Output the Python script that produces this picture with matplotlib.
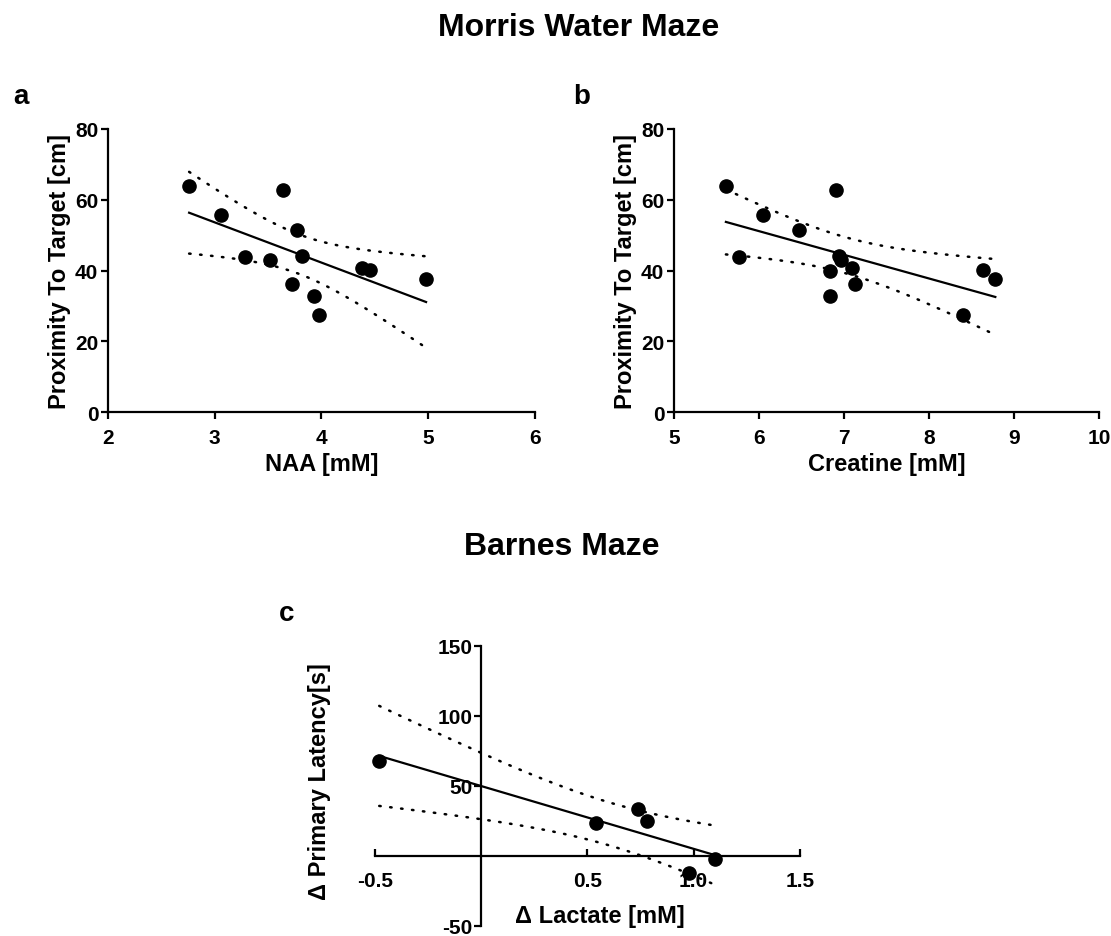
import matplotlib
matplotlib.use("Agg")
import matplotlib.pyplot as plt
import numpy as np

plt.rcParams['font.family'] = ['Liberation Sans', 'DejaVu Sans']
plt.rcParams['font.weight'] = 'bold'
plt.rcParams['axes.unicode_minus'] = False

# panel a: NAA vs proximity
naa = [2.76, 3.06, 3.64, 3.28, 3.52, 3.77, 3.82, 3.72, 3.93, 3.98, 4.38, 4.45, 4.98]
prox_a = [63.8, 55.8, 62.9, 43.8, 43.1, 51.5, 44.2, 36.3, 32.9, 27.5, 40.7, 40.1, 37.7]

# panel b: creatine vs proximity
creatine = [5.61, 6.05, 6.47, 5.77, 6.90, 6.94, 6.97, 6.83, 6.84, 7.09, 7.13, 8.40, 8.64, 8.78]
prox_b = [63.8, 55.6, 51.4, 43.8, 62.9, 44.0, 43.1, 39.9, 32.9, 40.7, 36.3, 27.5, 40.1, 37.7]

# panel c: delta lactate vs delta primary latency
d_lactate = [-0.48, 0.54, 0.74, 0.78, 0.98, 1.10]
d_latency = [67.6, 23.6, 33.6, 24.8, -12.0, -2.5]

# two-sided 95% t critical values by degrees of freedom
T95 = {4: 2.776, 11: 2.201, 12: 2.179}


def fit_with_band(ax, x, y):
    x = np.asarray(x)
    y = np.asarray(y)
    n = len(x)
    slope, icept = np.polyfit(x, y, 1)
    resid = y - (slope * x + icept)
    s = np.sqrt(np.sum(resid ** 2) / (n - 2))
    sxx = np.sum((x - x.mean()) ** 2)
    xs = np.linspace(x.min(), x.max(), 100)
    ys = slope * xs + icept
    half = T95[n - 2] * s * np.sqrt(1.0 / n + (xs - x.mean()) ** 2 / sxx)
    ax.plot(xs, ys, color='black', lw=1.6, zorder=3)
    for band in (ys + half, ys - half):
        ax.plot(xs, band, color='black', lw=1.8, linestyle=(0, (0.6, 3.8)),
                dash_capstyle='round', zorder=3)
    ax.plot(x, y, 'o', color='black', ms=9.5, zorder=4, clip_on=False)


def style_axes(ax):
    for side in ('top', 'right'):
        ax.spines[side].set_visible(False)
    for side in ('left', 'bottom'):
        ax.spines[side].set_linewidth(1.6)
    ax.tick_params(width=1.6, length=5, labelsize=15)
    ax.tick_params(axis='y', pad=2)
    ax.tick_params(axis='x', pad=6)


fig = plt.figure(figsize=(11.11, 9.37), dpi=100)

ax_a = fig.add_axes([0.0972, 0.5589, 0.3843, 0.3024])
fit_with_band(ax_a, naa, prox_a)
ax_a.set_xlim(2, 6)
ax_a.set_ylim(0, 80)
ax_a.set_xticks([2, 3, 4, 5, 6])
ax_a.set_yticks([0, 20, 40, 60, 80])
style_axes(ax_a)
ax_a.set_xlabel('NAA [mM]', fontsize=17, fontweight='bold', labelpad=4)
ax_a.set_ylabel('Proximity To Target [cm]', fontsize=17, fontweight='bold', labelpad=3)

ax_b = fig.add_axes([0.6067, 0.5589, 0.3825, 0.3024])
fit_with_band(ax_b, creatine, prox_b)
ax_b.set_xlim(5, 10)
ax_b.set_ylim(0, 80)
ax_b.set_xticks([5, 6, 7, 8, 9, 10])
ax_b.set_yticks([0, 20, 40, 60, 80])
style_axes(ax_b)
ax_b.set_xlabel('Creatine [mM]', fontsize=17, fontweight='bold', labelpad=4)
ax_b.set_ylabel('Proximity To Target [cm]', fontsize=17, fontweight='bold', labelpad=3)

ax_c = fig.add_axes([0.3375, 0.0107, 0.3825, 0.2991])
fit_with_band(ax_c, d_lactate, d_latency)
ax_c.set_xlim(-0.5, 1.5)
ax_c.set_ylim(-50, 150)
style_axes(ax_c)
ax_c.spines['left'].set_position(('data', 0))
ax_c.spines['bottom'].set_position(('data', 0))
ax_c.set_xticks([-0.5, 0.5, 1.0, 1.5])
ax_c.set_xticklabels(['-0.5', '0.5', '1.0', '1.5'])
ax_c.set_yticks([-50, 50, 100, 150])
ax_c.tick_params(axis='x', direction='in', pad=11)
ax_c.tick_params(axis='y', pad=1)
ax_c.set_xlabel('Δ Lactate [mM]', fontsize=17, fontweight='bold')
ax_c.xaxis.set_label_coords(0.53, 0.08)
ax_c.set_ylabel('Δ Primary Latency[s]', fontsize=17, fontweight='bold')
ax_c.yaxis.set_label_coords(-0.104, 0.518)

fig.text(0.521, 0.970, 'Morris Water Maze', fontsize=23, fontweight='bold',
         ha='center', va='center')
fig.text(0.506, 0.416, 'Barnes Maze', fontsize=23, fontweight='bold',
         ha='center', va='center')
fig.text(0.019, 0.897, 'a', fontsize=20, fontweight='bold', ha='center', va='center')
fig.text(0.524, 0.897, 'b', fontsize=20, fontweight='bold', ha='center', va='center')
fig.text(0.258, 0.345, 'c', fontsize=20, fontweight='bold', ha='center', va='center')

fig.savefig('out.png', dpi=100)
